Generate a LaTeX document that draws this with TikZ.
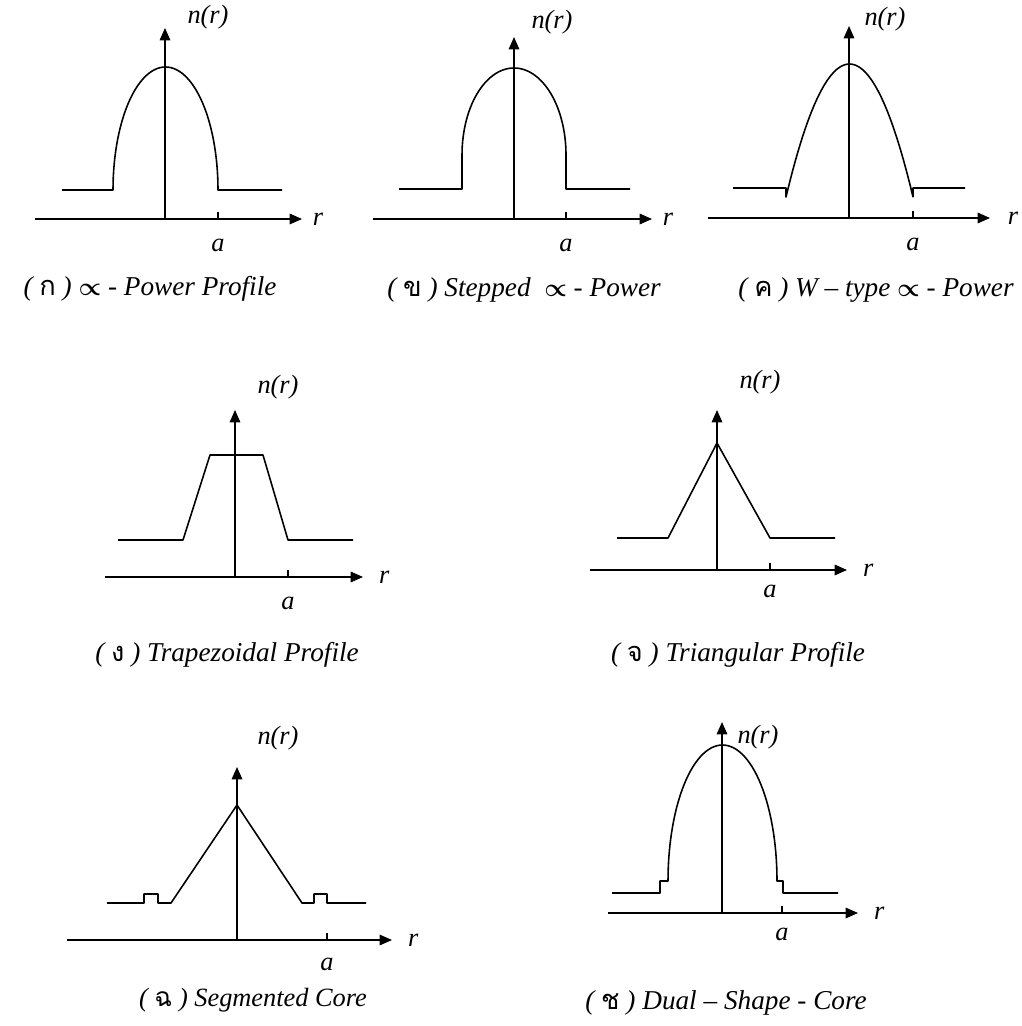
\documentclass[tikz,border=0pt]{standalone}
\usepackage{fontspec}
\setmainfont{Liberation Serif}
\newfontfamily\thaifont[Script=Thai]{Loma}
\usetikzlibrary{arrows.meta,positioning}
\tikzset{
  >={Triangle[length=7pt,width=6pt]},
  axis/.style={->,line width=0.7pt},
  prof/.style={line width=0.9pt,line join=round},
  tickmark/.style={line width=0.7pt},
  lbl/.style={font=\itshape\fontsize{15}{17}\selectfont,inner sep=0pt},
  figcap/.style={font=\itshape\fontsize{15.5}{18}\selectfont,inner sep=0pt}
}
\newcommand{\thai}[1]{{\upshape\thaifont #1}}
\newcommand{\prp}{$\boldsymbol{\propto}$}
\usepackage{amsmath,amssymb}

\begin{document}
\begin{tikzpicture}[x=0.02cm,y=-0.02cm]
\path[use as bounding box] (0,0) rectangle (1021,1026);

% (ko) power profile
\coordinate (o1) at (165,219);
\coordinate (y1) at (165,28);
\coordinate (x1s) at (35,219);
\coordinate (x1e) at (302,219);
\coordinate (t1) at (218,219);
\draw[axis] (o1) -- (y1);
\draw[axis] (x1s) -- (x1e);
\draw[tickmark] (t1) -- ++(0,-7);
\draw[prof] (62,190) -- (113,190) -- plot[domain=-90:90,samples=61,variable=\t] ({165.5+52.5*sin(\t)},{67+123*(1-cos(\t))}) -- (282,190);
\node[lbl] (n1) at (208,17) {n(r)};
\node[lbl,right=6pt of x1e] (r1) {r};
\node[lbl,below=0.4cm of t1] (a1) {a};
\node[figcap] (c1) at (150,289) {( \thai{ก} ) \prp\ - Power Profile};

% (kho) stepped power
\coordinate (o2) at (514,219);
\coordinate (y2) at (514,37);
\coordinate (x2s) at (373,219);
\coordinate (x2e) at (652,219);
\coordinate (t2) at (566,219);
\draw[axis] (o2) -- (y2);
\draw[axis] (x2s) -- (x2e);
\draw[tickmark] (t2) -- ++(0,-7);
\draw[prof] (399,189) -- (462,189) -- (462,155) -- plot[domain=-90:90,samples=61,variable=\t] ({514+52*sin(\t)},{68+87*(1-cos(\t))}) -- (566,189) -- (630,189);
\node[lbl] (n2) at (552,22) {n(r)};
\node[lbl,right=6pt of x2e] (r2) {r};
\node[lbl,below=0.4cm of t2] (a2) {a};
\node[figcap] (c2) at (524,290) {( \thai{ข} ) Stepped \ \prp\ - Power};

% (kho khwai) W-type
\coordinate (o3) at (849,218);
\coordinate (y3) at (849,26);
\coordinate (x3s) at (708,218);
\coordinate (x3e) at (990,218);
\coordinate (t3) at (913,218);
\draw[axis] (o3) -- (y3);
\draw[axis] (x3s) -- (x3e);
\draw[tickmark] (t3) -- ++(0,-7);
\draw[prof] (733,188) -- (786,188) -- (786,197) -- plot[domain=-1:1,samples=41] ({849.5+63.5*\x},{64+133*\x*\x}) -- (913,188) -- (965,188);
\node[lbl] (n3) at (885,19) {n(r)};
\node[lbl,right=10pt of x3e] (r3) {r};
\node[lbl,below=0.4cm of t3] (a3) {a};
\node[figcap] (c3) at (876,290) {( \thai{ค} ) W -- type \prp\ - Power};

% (ngo) trapezoidal
\coordinate (o4) at (235,577);
\coordinate (y4) at (235,410);
\coordinate (x4s) at (105,577);
\coordinate (x4e) at (363,577);
\coordinate (t4) at (288,577);
\draw[axis] (o4) -- (y4);
\draw[axis] (x4s) -- (x4e);
\draw[tickmark] (t4) -- ++(0,-7);
\draw[prof] (118,540) -- (183,540) -- (210,455) -- (263,455) -- (288,540) -- (353,540);
\node[lbl] (n4) at (278,387) {n(r)};
\node[lbl,right=9pt of x4e] (r4) {r};
\node[lbl,below=0.4cm of t4] (a4) {a};
\node[figcap] (c4) at (227,655) {( \thai{ง} ) Trapezoidal Profile};

% (cho) triangular
\coordinate (o5) at (717,570);
\coordinate (y5) at (717,410);
\coordinate (x5s) at (590,570);
\coordinate (x5e) at (847,570);
\coordinate (t5) at (770,570);
\draw[axis] (o5) -- (y5);
\draw[axis] (x5s) -- (x5e);
\draw[tickmark] (t5) -- ++(0,-7);
\draw[prof] (617,538) -- (668,538) -- (717,443) -- (770,538) -- (835,538);
\node[lbl] (n5) at (760,382) {n(r)};
\node[lbl,right=9pt of x5e] (r5) {r};
\node[lbl,below=0.3cm of t5] (a5) {a};
\node[figcap] (c5) at (738,655) {( \thai{จ} ) Triangular Profile};

% (chho) segmented core
\coordinate (o6) at (237,940);
\coordinate (y6) at (237,767);
\coordinate (x6s) at (67,940);
\coordinate (x6e) at (392,940);
\coordinate (t6) at (327,940);
\draw[axis] (o6) -- (y6);
\draw[axis] (x6s) -- (x6e);
\draw[tickmark] (t6) -- ++(0,-7);
\draw[prof] (107,903) -- (144,903) -- (144,894) -- (158,894) -- (158,903) -- (171,903) -- (237,805) -- (302,903) -- (314,903) -- (314,894) -- (327,894) -- (327,903) -- (366,903);
\node[lbl] (n6) at (278,738) {n(r)};
\node[lbl,right=9pt of x6e] (r6) {r};
\node[lbl,below=0.35cm of t6] (a6) {a};
\node[figcap,font=\itshape\fontsize{15}{18}\selectfont] (c6) at (253,1000) {( \thai{ฉ} ) Segmented Core};

% (cho chang) dual shape core
\coordinate (o7) at (722,913);
\coordinate (y7) at (722,722);
\coordinate (x7s) at (608,913);
\coordinate (x7e) at (858,913);
\coordinate (t7) at (782,913);
\draw[axis] (o7) -- (y7);
\draw[axis] (x7s) -- (x7e);
\draw[tickmark] (t7) -- ++(0,-7);
\draw[prof] (612,893) -- (660,893) -- (660,881) -- (668,881) -- plot[domain=-90:90,samples=61,variable=\t] ({722.5+54.5*sin(\t)},{745+136*(1-cos(\t))}) -- (783,881) -- (783,893) -- (838,893);
\node[lbl] (n7) at (758,737) {n(r)};
\node[lbl,right=9pt of x7e] (r7) {r};
\node[lbl,below=0.3cm of t7] (a7) {a};
\node[figcap] (c7) at (726,1003) {( \thai{ช} ) Dual -- Shape - Core};
\end{tikzpicture}
\end{document}
